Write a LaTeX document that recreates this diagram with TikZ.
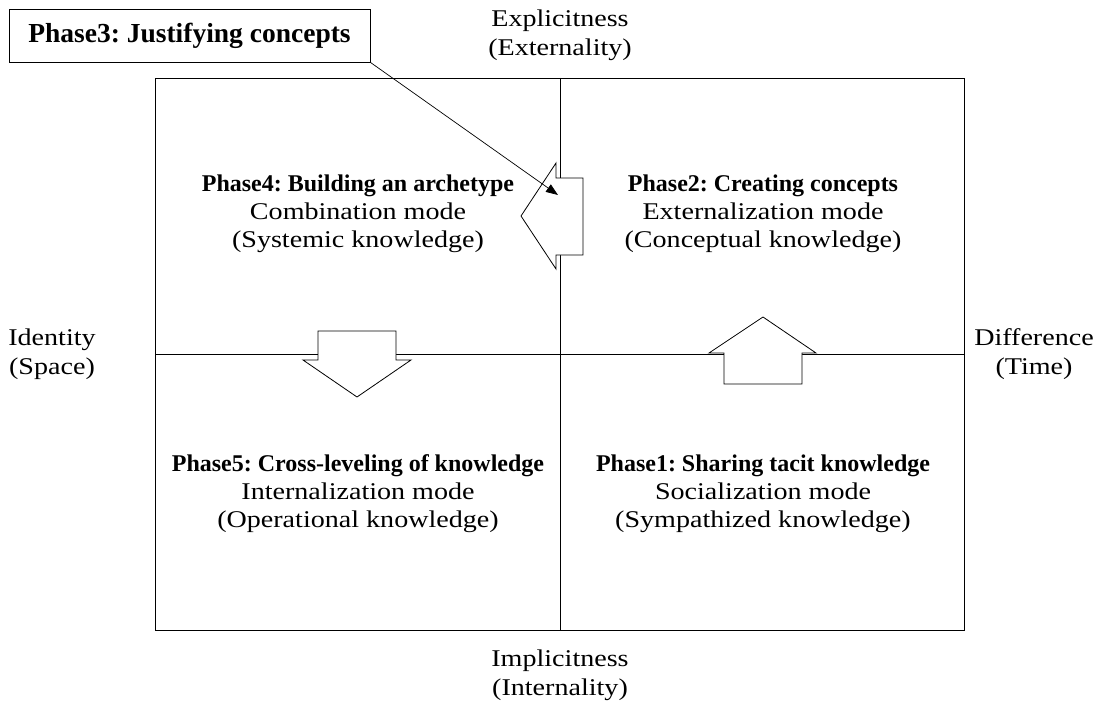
\documentclass[tikz,border=0pt]{standalone}
\usepackage{fontspec}
\setmainfont{Liberation Serif}[FakeStretch=1.17]
\newfontfamily\phasefont{Liberation Serif}
\usepackage{tikz}
\usetikzlibrary{positioning, arrows.meta}
\frenchspacing

\begin{document}
\begin{tikzpicture}[x=1pt, y=-1pt,
          ax/.style={align=center, inner sep=0pt, font=\fontsize{24}{29}\selectfont},
          ph/.style={align=center, inner sep=0pt, font=\fontsize{24}{28}\selectfont},
          blk/.style={draw, fill=white, line width=0.8pt, line join=miter},
          ->/.style={-{Triangle[length=12pt, width=9pt]}, line width=0.7pt}]
        \useasboundingbox (0,0) rectangle (1102,706);
        % frame and axes
        \draw[line width=0.9pt] (155,78) rectangle (964,630);
        \draw[line width=0.9pt] (560,78) -- (560,630);
        \draw[line width=0.9pt] (155,354) -- (964,354);
        \node[ax] (top) at (560,35) {Explicitness\\(Externality)};
        \node[ax] (bot) at (560,675) {Implicitness\\(Internality)};
        \node[ax] (lft) at (52,354) {Identity\\(Space)};
        \node[ax] (rgt) at (1034,354) {Difference\\(Time)};
        % block arrows
        \draw[blk] (583,178) -- (556,178) -- (556,163) -- (521,216) -- (556,269)
          -- (556,255) -- (583,255) -- cycle;
        \draw[blk] (318,331) -- (396,331) -- (396,360) -- (411,360) -- (357,397)
          -- (303,360) -- (318,360) -- cycle;
        \draw[blk] (724,384) -- (802,384) -- (802,353) -- (816,353) -- (763,317)
          -- (709,353) -- (724,353) -- cycle;
        % phases
        \node[ph] (p4) at (358,214) {{\phasefont\bfseries Phase4: Building an archetype}\\Combination mode\\(Systemic knowledge)};
        \node[ph] (p2) at (763,214) {{\phasefont\bfseries Phase2: Creating concepts}\\Externalization mode\\(Conceptual knowledge)};
        \node[ph] (p5) at (358,494) {{\phasefont\bfseries Phase5: Cross-leveling of knowledge}\\Internalization mode\\(Operational knowledge)};
        \node[ph] (p1) at (763,494) {{\phasefont\bfseries Phase1: Sharing tacit knowledge}\\Socialization mode\\(Sympathized knowledge)};
        \node[draw, line width=0.8pt, minimum width=361pt, minimum height=53pt,
          inner sep=0pt, font=\phasefont\bfseries\fontsize{27.5}{30}\selectfont]
          (p3) at (189.5,35.5) {Phase3: Justifying concepts};
        \coordinate (p3end) at (558,195);
        \draw [->] (p3.south east) to (p3end);
      \end{tikzpicture}
\end{document}
